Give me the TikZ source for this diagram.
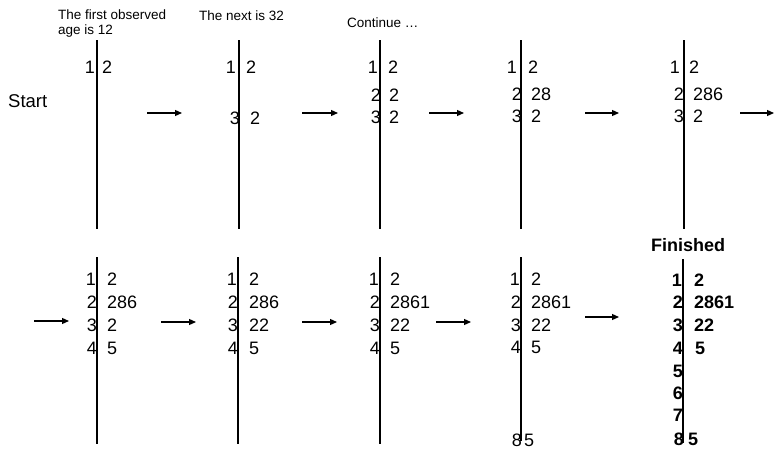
\documentclass[tikz,border=0pt]{standalone}
\usepackage{fontspec}
\setmainfont{Liberation Sans}
\usetikzlibrary{arrows.meta}
\tikzset{
  num/.style={inner sep=0pt, font=\fontsize{18}{20}\selectfont},
  stem/.style={num, anchor=east},
  leaf/.style={num, anchor=west},
  bstem/.style={stem, font=\fontsize{18}{20}\selectfont\bfseries},
  bleaf/.style={leaf, font=\fontsize{18}{20}\selectfont\bfseries},
  title/.style={inner sep=0pt, anchor=west, align=left, font=\fontsize{13.5}{15}\selectfont},
  divider/.style={line width=1.7pt},
  stepar/.style={line width=1.2pt, -{Triangle[length=7pt,width=6pt]}}
}
\newcommand\slrow[6]{\node[stem] (#1s) at (#2,#4) {#5};\node[leaf] (#1l) at (#3,#4) {#6};}
\newcommand\bslrow[6]{\node[bstem] (#1s) at (#2,#4) {#5};\node[bleaf] (#1l) at (#3,#4) {#6};}
\begin{document}
\begin{tikzpicture}[x=1pt,y=-1pt]
\useasboundingbox (0,0) rectangle (774,453);
% titles
\node[title] (tfirst) at (58,24) {The first observed\\age is 12};
\node[title] (tnext) at (199,16) {The next is 32};
\node[title] (tcont) at (347,23) {Continue \dots};
\node[title, font=\fontsize{18}{20}\selectfont\bfseries] (tfin) at (651,245) {Finished};
\node[title, font=\fontsize{18.5}{20}\selectfont] (tstart) at (8,101) {Start};
% top dividers
\foreach \n/\x in {a/97,b/239,c/380,d/521,e/684}{
  \coordinate (\n top) at (\x,40); \coordinate (\n bot) at (\x,229);
  \draw[divider] (\n top) -- (\n bot);
}
% bottom dividers
\foreach \n/\x/\ya/\yb in {f/97/257/444,g/238/257/444,h/380/257/444,i/521/257/441,j/683/259/443}{
  \coordinate (\n top) at (\x,\ya); \coordinate (\n bot) at (\x,\yb);
  \draw[divider] (\n top) -- (\n bot);
}
% panel a
\slrow{a1}{95}{102}{67}{1}{2}
% panel b
\slrow{b1}{236}{246}{67}{1}{2}
\slrow{b3}{240}{250}{118}{3}{2}
% panel c
\slrow{c1}{378}{388}{67}{1}{2}
\slrow{c2}{381}{389}{95}{2}{2}
\slrow{c3}{381}{389}{117}{3}{2}
% panel d
\slrow{d1}{517}{528}{67}{1}{2}
\slrow{d2}{522}{531}{94}{2}{28}
\slrow{d3}{522}{531}{116}{3}{2}
% panel e
\slrow{e1}{680}{689}{67}{1}{2}
\slrow{e2}{684}{693}{94}{2}{286}
\slrow{e3}{684}{693}{116}{3}{2}
% panel f
\slrow{f1}{96}{107}{279}{1}{2}
\slrow{f2}{97}{107}{302}{2}{286}
\slrow{f3}{97}{107}{325}{3}{2}
\slrow{f4}{97}{107}{348}{4}{5}
% panel g
\slrow{g1}{237}{249}{279}{1}{2}
\slrow{g2}{238}{249}{302}{2}{286}
\slrow{g3}{238}{249}{325}{3}{22}
\slrow{g4}{238}{249}{348}{4}{5}
% panel h
\slrow{h1}{379}{390}{279}{1}{2}
\slrow{h2}{380}{390}{302}{2}{2861}
\slrow{h3}{380}{390}{325}{3}{22}
\slrow{h4}{380}{390}{348}{4}{5}
% panel i
\slrow{i1}{520}{531}{279}{1}{2}
\slrow{i2}{521}{531}{302}{2}{2861}
\slrow{i3}{521}{531}{325}{3}{22}
\slrow{i4}{521}{531}{347}{4}{5}
\slrow{i8}{522}{524}{440}{8}{5}
% panel j (finished)
\bslrow{j1}{682}{694}{280}{1}{2}
\bslrow{j2}{683}{694}{302}{2}{2861}
\bslrow{j3}{683}{694}{325}{3}{22}
\bslrow{j4}{683}{695}{348}{4}{5}
\node[bstem] (j5s) at (683,371) {5};
\node[bstem] (j6s) at (683,393) {6};
\node[bstem] (j7s) at (683,415) {7};
\bslrow{j8}{684}{688}{439}{8}{5}
% arrows
\foreach \k/\xa/\xb/\y in {1/147/182/113,2/302/338/113,3/429/464/113,4/585/619/113,5/740/774/113,6/34/69/321,7/161/196/322,8/302/337/322,9/436/471/322,10/585/619/317}{
  \coordinate (ar\k s) at (\xa,\y); \coordinate (ar\k e) at (\xb,\y);
  \draw[stepar] (ar\k s) -- (ar\k e);
}
\end{tikzpicture}
\end{document}
